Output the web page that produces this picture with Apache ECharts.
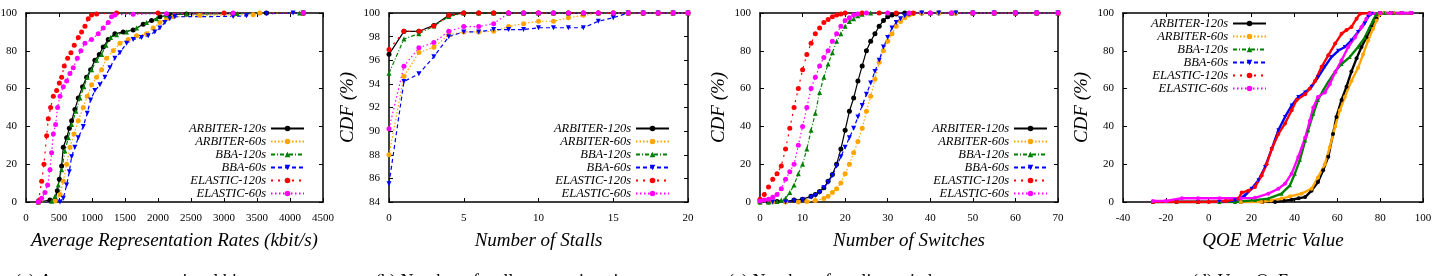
<!DOCTYPE html>
<html>
<head>
<meta charset="utf-8">
<script src="https://cdn.jsdelivr.net/npm/echarts@6/dist/echarts.min.js"></script>
<style>
html,body{margin:0;padding:0;background:#fff;}
#chart{width:1435px;height:276px;}
</style>
</head>
<body>
<div id="chart"></div>
<script>
// ---------- DATA ----------
const seriesNames = ['ARBITER-120s','ARBITER-60s','BBA-120s','BBA-60s','ELASTIC-120s','ELASTIC-60s'];

// (a) Average representation rate (kbit/s) vs CDF (%)
const rateArbiter120 = [[187,0],[363,1],[439,1],[474,6],[505,12],[540,19],[565,29],[616,34],[656,39],[691,43],[741,49],[792,55],[857,61],[918,66],[979,70],[1044,75],[1110,78],[1170,82],[1246,86],[1347,89],[1473,90],[1624,91],[1776,94],[1902,96],[2028,98],[2179,99],[2432,99.5],[3138,99.6],[3643,100],[4200,100]];
const rateArbiter60 = [[187,0],[439,0.5],[515,4],[565,11],[616,20],[666,29],[727,36],[792,43],[868,50],[928,56],[994,62],[1069,66],[1145,70],[1221,76],[1322,80],[1423,84],[1549,86],[1675,88],[1826,89],[1927,92],[2028,95],[2129,97],[2230,98],[2634,98.7],[3138,99],[3441,99.1],[3542,100],[4200,100]];
const rateBba120 = [[187,0],[388,0.4],[439,3],[489,9],[540,17],[590,27],[641,34],[691,41],[757,48],[817,55],[878,61],[928,66],[994,70],[1069,75],[1145,78],[1211,83],[1281,87],[1372,88.5],[1523,90],[1675,92],[1826,95],[1977,97],[2129,99],[2432,99.6],[3200,99.8],[4147,100],[4200,100]];
const rateBba60 = [[187,0],[515,0],[565,2],[616,9],[656,16],[691,24],[741,29],[792,34],[868,40],[928,47],[979,54],[1044,59],[1120,62],[1196,66],[1271,71],[1347,76],[1423,79],[1524,84],[1624,86],[1751,87],[1851,88],[1952,90],[2028,92],[2104,95],[2179,97],[2255,98],[3138,98.2],[3340,98.5],[3643,99.6],[4046,100],[4200,100]];
const rateElastic120 = [[187,0],[202,1],[237,11],[272,20],[313,35],[338,44],[373,50],[414,56],[464,59],[505,63],[540,66],[580,72],[631,76],[681,79],[731,83],[792,87],[842,90],[893,93],[943,97],[993,99],[1070,99.5],[1372,100],[2000,100],[3000,100],[4200,100]];
const rateElastic60 = [[187,0],[237,2],[287,5],[328,9],[363,17],[388,26],[414,36],[449,41],[479,50],[515,56],[565,61],[616,64],[666,68],[716,71],[777,76],[832,80],[893,84],[993,86],[1094,89],[1170,92],[1246,95],[1297,98],[1347,99],[1624,99.4],[2129,99.6],[3138,100],[4200,100]];

// (b) Number of stalls vs CDF (%)
const stallCounts = [0,1,2,3,4,5,6,7,8,9,10,11,12,13,14,15,16,17,18,19,20];
const stallArbiter120 = [96.5,98.45,98.45,98.95,99.8,100,100,100,100,100,100,100,100,100,100,100,100,100,100,100,100];
const stallArbiter60  = [88,94.65,96.65,97.1,98.15,98.4,98.4,98.45,98.85,99.1,99.3,99.3,99.6,99.8,100,100,100,100,100,100,100];
const stallBba120     = [94.9,97.8,98.25,98.9,99.7,100,100,100,100,100,100,100,100,100,100,100,100,100,100,100,100];
const stallBba60      = [85.55,94.2,94.85,96.3,98.0,98.4,98.4,98.6,98.6,98.6,98.75,98.75,98.75,98.75,99.3,99.6,100,100,100,100,100];
const stallElastic120 = [96.9,98.45,98.45,98.9,99.8,100,100,100,100,100,100,100,100,100,100,100,100,100,100,100,100];
const stallElastic60  = [90.2,95.5,97.05,97.5,98.45,98.85,98.85,99.1,100,100,100,100,100,100,100,100,100,100,100,100,100];

// (c) Number of switches vs CDF (%)
const switchArbiter120 = [[0,0],[2,0],[4,0.2],[6,0.4],[8,1],[10,1.5],[12,3],[13,4],[14,5.5],[15,7.5],[16,11],[17,14.5],[18,20],[19,28],[20,38],[21,48],[22,55],[23,64],[24,72],[25,80],[26,85],[27,89],[28,93],[29,96],[30,98],[31,99],[32,99.5],[34,100],[38,100],[42,100],[46,100],[50,100],[55,100],[60,100],[65,100],[70,100]];
const switchArbiter60 = [[0,0],[3,0],[6,0],[9,0],[11,0.2],[13,0.8],[15,1.8],[16,3],[17,5],[18,7],[19,10],[20,15],[21,20],[22,26],[23,32],[24,39],[25,48],[26,56],[27,65],[28,74],[29,80],[30,85],[31,89],[32,93],[33,95.5],[34,97.5],[35,99],[36,99.6],[38,100],[42,100],[46,100],[50,100],[55,100],[60,100],[65,100],[70,100]];
const switchBba120 = [[0,0],[2,0],[4,0.3],[5,1],[6,2],[7,5],[8,9],[9,15],[10,20],[11,28],[12,38],[13,47],[14,58],[15,66],[16,73],[17,79],[18,85],[19,89],[20,93],[21,95.5],[22,97],[23,98.5],[24,99.3],[26,100],[30,100],[35,100],[40,100],[45,100],[50,100],[55,100],[60,100],[65,100],[70,100]];
const switchBba60 = [[0,0],[3,0],[6,0],[8,0.5],[10,1],[12,2.5],[13,3.5],[14,5],[15,7.5],[16,10.5],[17,14],[18,19],[19,24],[20,29],[21,34],[22,39],[23,45],[24,51],[25,57],[26,63],[27,69],[28,75],[29,82],[30,87],[31,92],[32,95],[33,97],[34,98.5],[35,99.3],[36,99.8],[38,100],[42,100],[46,100],[50,100],[55,100],[60,100],[65,100],[70,100]];
const switchElastic120 = [[0,1.5],[1,4],[2,8],[3,12],[4,15],[5,19],[6,28],[7,39],[8,50],[9,60],[10,70],[11,78],[12,84],[13,89],[14,92],[15,95],[16,96.5],[17,98],[18,99],[19,99.5],[20,100],[24,100],[28,100],[32,100],[36,100],[40,100],[45,100],[50,100],[55,100],[60,100],[65,100],[70,100]];
const switchElastic60 = [[0,0.5],[1,1],[2,1.5],[3,2.5],[4,4],[5,7],[6,12],[7,16],[8,20],[9,30],[10,40],[11,50],[12,60],[13,66],[14,72],[15,76.5],[16,80],[17,85],[18,89],[19,93],[20,96],[21,97.5],[22,99],[23,99.5],[25,100],[30,100],[35,100],[40,100],[45,100],[50,100],[55,100],[60,100],[65,100],[70,100]];

// (d) QoE metric value vs CDF (%)
const qoeArbiter120 = [[-26,0],[-15,0],[-5,0],[5,0],[15,0],[25,0],[31,0],[35,0.6],[38.7,1.2],[42,2],[45,2.6],[48,6],[51,10.6],[53.4,16.8],[55.8,24],[58,36],[59.6,45],[62,54],[64.3,61],[66.6,69],[69,76],[71.3,82],[73.6,87],[76,92.6],[78.3,97],[79.8,99.6],[82,100],[86,100],[90,100],[94.6,100]];
const qoeArbiter60 = [[-26,0],[-15,0],[-5,0],[5,0],[15,0],[24.7,0],[29,0.8],[34,1.8],[38,3],[43.3,4.4],[48,7],[51,13],[54.2,20],[56.5,29],[59,40],[61.2,48.5],[63.5,55.5],[66.6,64],[69.7,71],[72,78],[74.4,85.5],[76.7,91.7],[78.3,96],[79.8,99.3],[82,100],[86,100],[90,100],[94.6,100]];
const qoeBba120 = [[-26,0],[-15,0],[-5,0],[5,0],[12.3,0],[21.6,1],[27.8,1.8],[34,4.4],[37.9,8.8],[40.2,15],[42.6,22.4],[45,32.5],[46.4,38],[48.8,46.7],[51,54],[53.4,59],[55.8,63.5],[59,69],[62,73],[65.8,76.7],[69.7,82],[72.8,87],[75.2,92.6],[76.7,96],[78.3,99.6],[82,100],[86,100],[90,100],[94.6,100]];
const qoeBba60 = [[-26,0],[-15,0],[-5,0],[5,0],[12.3,0.9],[17,3.5],[20,7],[23.2,11.5],[26.3,18.5],[29.4,28],[32.5,38],[35.6,45],[38.7,51],[41.8,55.5],[45,58],[48,61],[51,66],[54.2,71.6],[57.3,76.7],[60.4,80],[63.5,82],[66.6,85.5],[69.7,90],[72.8,94.4],[74.4,98],[76,99.6],[80,100],[85,100],[90,100],[94.6,100]];
const qoeElastic120 = [[-26,0],[-15,0],[-5,0],[0,0],[8,0.5],[13.9,1.8],[15.4,5],[18.5,6],[21.6,8],[24.7,14],[27,20],[29.4,28],[32.5,36],[35.6,41.5],[38.7,48.5],[41,54],[45,57],[47.2,60],[49.6,64],[52.7,71.5],[55.8,77.6],[59,83.8],[62,89],[64.3,91],[66.6,92.6],[69,97],[70.6,99.6],[75,100],[80,100],[85,100],[90,100],[94.6,100]];
const qoeElastic60 = [[-26,0.5],[-20,0.5],[-12.5,2],[-5,2],[5,2],[15,2],[21.6,2.2],[27.8,4.4],[32.5,7],[35.6,9.7],[38.7,15],[41.8,23.8],[45,34],[47.2,43],[48.8,50],[51,55.5],[54.2,58],[56.5,62.4],[59,68.6],[62,75],[65.1,82],[68.2,87],[71.3,92.6],[73.6,97],[75.2,99.6],[80,100],[85,100],[90,100],[94.6,100]];

const axisTitles = ['Average Representation Rates (kbit/s)','Number of Stalls','Number of Switches','QOE Metric Value'];
const yTitle = 'CDF (%)';
const captions = ['(a) Average representational bit rates','(b) Number of stalls comparison in a','(c) Number of quality switches','(d) User QoE'];

// ---------- STYLE / LAYOUT ----------
const FONT = "'Liberation Serif','Times New Roman',Times,serif";
const styles = [
  {color:'#000000', type:'solid',    symbol:'circle',   rot:0},
  {color:'#ffa500', type:[1.5,2],    symbol:'circle',   rot:0},
  {color:'#008000', type:[4,2,1,2],  symbol:'triangle', rot:0},
  {color:'#0000ff', type:[4,3],      symbol:'triangle', rot:180},
  {color:'#ff0000', type:[2,5],      symbol:'circle',   rot:0},
  {color:'#ff00ff', type:[1.5,2.5],  symbol:'circle',   rot:0}
];
const toPairs = arr => stallCounts.map((x,k)=>[x, arr[k]]);
const panels = [
  {grid:{left:26,top:13,width:297,height:189}, x:[0,4500,500], y:[0,100,20],
   data:[rateArbiter120,rateArbiter60,rateBba120,rateBba60,rateElastic120,rateElastic60],
   legend:{right:1435-305, top:122}, lw:1.2, ss:5},
  {grid:{left:389,top:13,width:299,height:189}, x:[0,20,5], y:[84,100,2],
   data:[stallArbiter120,stallArbiter60,stallBba120,stallBba60,stallElastic120,stallElastic60].map(toPairs),
   legend:{right:1435-670, top:122}, lw:1.2, ss:5},
  {grid:{left:760,top:13,width:298,height:189}, x:[0,70,10], y:[0,100,20],
   data:[switchArbiter120,switchArbiter60,switchBba120,switchBba60,switchElastic120,switchElastic60],
   legend:{right:1435-1048, top:122}, lw:1.2, ss:5},
  {grid:{left:1123,top:13,width:300,height:189}, x:[-40,100,20], y:[0,100,20],
   data:[qoeArbiter120,qoeArbiter60,qoeBba120,qoeBba60,qoeElastic120,qoeElastic60],
   legend:{right:1435-1267, top:17}, lw:2.4, ss:4}
];

const lineAx = {onZero:false, lineStyle:{color:'#000', width:1.5}};
const tickAx = {show:true, inside:true, length:4, lineStyle:{color:'#000', width:1}};
const labelStyle = {color:'#000', fontFamily:FONT, fontSize:11, formatter:v=>String(v)};
const titleStyle = {color:'#000', fontFamily:FONT, fontSize:19, fontStyle:'italic'};

const grid=[], xAxis=[], yAxis=[], series=[], legend=[];
panels.forEach((p,i)=>{
  grid.push(Object.assign({containLabel:false, outerBoundsMode:'none'}, p.grid));
  xAxis.push({type:'value', gridIndex:i, position:'bottom', min:p.x[0], max:p.x[1], interval:p.x[2],
    axisLine:lineAx, axisTick:tickAx, splitLine:{show:false},
    axisLabel:Object.assign({margin:11}, labelStyle),
    name:axisTitles[i], nameLocation:'middle', nameGap:29, nameTextStyle:titleStyle});
  xAxis.push({type:'value', gridIndex:i, position:'top', min:p.x[0], max:p.x[1], interval:p.x[2],
    axisLine:lineAx, axisTick:tickAx, splitLine:{show:false}, axisLabel:{show:false}});
  yAxis.push({type:'value', gridIndex:i, position:'left', min:p.y[0], max:p.y[1], interval:p.y[2],
    axisLine:lineAx, axisTick:tickAx, splitLine:{show:false},
    axisLabel:Object.assign({margin:9}, labelStyle),
    name:yTitle, nameLocation:'middle', nameGap:32, nameRotate:90, nameTextStyle:titleStyle});
  yAxis.push({type:'value', gridIndex:i, position:'right', min:p.y[0], max:p.y[1], interval:p.y[2],
    axisLine:lineAx, axisTick:tickAx, splitLine:{show:false}, axisLabel:{show:false}});
  p.data.forEach((d,k)=>{
    const st = styles[k];
    series.push({type:'line', name:seriesNames[k], xAxisIndex:2*i, yAxisIndex:2*i, data:d,
      symbol:st.symbol, symbolSize:p.ss, symbolRotate:st.rot, showSymbol:true, showAllSymbol:true,
      lineStyle:{color:st.color, type:(i===3?'solid':st.type), width:p.lw},
      itemStyle:{color:st.color}, emphasis:{disabled:true}, animation:false});
  });
  legend.push({data:seriesNames, orient:'vertical', align:'right', right:p.legend.right, top:p.legend.top,
    itemWidth:33, itemHeight:7, itemGap:0, selectedMode:false, padding:0,
    textStyle:{color:'#000', fontFamily:FONT, fontSize:12.5, fontStyle:'italic', lineHeight:12}});
});

const capX = [15, 375, 728, 1192];
const graphic = captions.map((c,i)=>({type:'text', left:capX[i], top:273,
  style:{text:c, fill:'#000', font:'18px '+FONT}}));

const chart = echarts.init(document.getElementById('chart'), null, {renderer:'canvas'});
chart.setOption({animation:false, backgroundColor:'#fff', grid, xAxis, yAxis, series, legend, graphic});
</script>
</body>
</html>
